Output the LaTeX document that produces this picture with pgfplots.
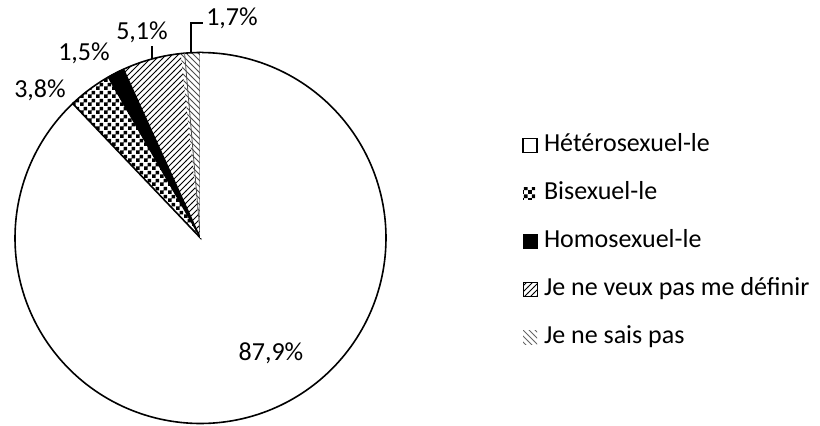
\documentclass[border=0pt]{standalone}
\usepackage{fontspec}
\setmainfont{Carlito}
\usepackage{pgfplots}
\pgfplotsset{compat=1.18}
\usepackage{pgfplotstable}
\usetikzlibrary{patterns}

\pgfdeclarepatternformonly{finechecker}{\pgfqpoint{0pt}{0pt}}{\pgfqpoint{4pt}{4pt}}{\pgfqpoint{4pt}{4pt}}{%
  \pgfpathrectangle{\pgfqpoint{0pt}{0pt}}{\pgfqpoint{2pt}{2pt}}%
  \pgfpathrectangle{\pgfqpoint{2pt}{2pt}}{\pgfqpoint{2pt}{2pt}}%
  \pgfusepath{fill}}

% shares in percent, in Excel order (clockwise from 12 o'clock)
\pgfplotstableread{
pct
87.9
3.8
1.5
5.1
1.7
}\piedata

\pgfplotstablegetelem{0}{pct}\of\piedata \let\pA\pgfplotsretval
\pgfplotstablegetelem{1}{pct}\of\piedata \let\pB\pgfplotsretval
\pgfplotstablegetelem{2}{pct}\of\piedata \let\pC\pgfplotsretval
\pgfplotstablegetelem{3}{pct}\of\piedata \let\pD\pgfplotsretval
\pgfplotstablegetelem{4}{pct}\of\piedata \let\pE\pgfplotsretval
\pgfmathsetmacro\aA{90-3.6*\pA}
\pgfmathsetmacro\aB{\aA-3.6*\pB}
\pgfmathsetmacro\aC{\aB-3.6*\pC}
\pgfmathsetmacro\aD{\aC-3.6*\pD}
\pgfmathsetmacro\aE{\aD-3.6*\pE}

\def\cx{200.5}
\def\cy{187}
\def\rr{185.5}

\begin{document}
\begin{tikzpicture}
\begin{axis}[
  width=410pt, height=212.5pt, scale only axis,
  xmin=0, xmax=820, ymin=0, ymax=425,
  hide axis, clip=false,
  legend image code/.code={\draw[#1] (0pt,-3.5pt) rectangle (7pt,3.5pt);},
  legend style={draw=none, fill=none, inner sep=0pt, at={(axis cs:522,292)}, anchor=north west,
    font=\fontsize{13}{15}\selectfont, row sep=12pt, column sep=3pt,
    nodes={inner sep=0pt, text height=9pt, text depth=3pt}},
  legend cell align=left,
]
\path (axis cs:0,0) rectangle (axis cs:820,425);

\addplot[draw=black, line width=0.8pt, fill=white, domain=\aA:90, samples=200]
  ({\cx+\rr*cos(x)},{\cy+\rr*sin(x)}) -- (\cx,\cy) -- cycle;
\addplot[draw=none, pattern=finechecker, domain=\aB:\aA, samples=30,
  legend image code/.code={\fill[pattern=finechecker] (0pt,-3pt) rectangle (6pt,3pt);}]
  ({\cx+\rr*cos(x)},{\cy+\rr*sin(x)}) -- (\cx,\cy) -- cycle;
\addplot[draw=black, line width=0.5pt, fill=black, domain=\aC:\aB, samples=20]
  ({\cx+\rr*cos(x)},{\cy+\rr*sin(x)}) -- (\cx,\cy) -- cycle;
\addplot[draw=none, pattern=north east lines, domain=\aD:\aC, samples=30,
  legend image code/.code={\draw[pattern=north east lines, draw=black, line width=0.6pt] (0pt,-3.5pt) rectangle (7pt,3.5pt);}]
  ({\cx+\rr*cos(x)},{\cy+\rr*sin(x)}) -- (\cx,\cy) -- cycle;
\addplot[draw=none, pattern=north west lines, pattern color=black!70, domain=\aE:\aD, samples=20,
  legend image code/.code={\fill[pattern=north west lines, pattern color=black!60] (0pt,-3.5pt) rectangle (7pt,3.5pt);}]
  ({\cx+\rr*cos(x)},{\cy+\rr*sin(x)}) -- (\cx,\cy) -- cycle;

% outer rim of the small slices
\addplot[black, line width=0.8pt, domain=\aE:\aA, samples=40, forget plot]
  ({\cx+\rr*cos(x)},{\cy+\rr*sin(x)});
% separators between hatched slices
\addplot[black!70, line width=0.4pt, forget plot] coordinates {(\cx,\cy) (184.6,371.8)};
\addplot[white, line width=1pt, forget plot] coordinates {(\cx,\cy) (200.5,372.5)};

% leader lines
\addplot[black, line width=0.6pt, forget plot] coordinates {(152,366) (152,379)};
\addplot[black, line width=0.6pt, forget plot] coordinates {(191,372.3) (191,402) (203,402)};

\legend{Hétérosexuel-le, Bisexuel-le, Homosexuel-le, Je ne veux pas me définir, Je ne sais pas}

\begin{scope}[font=\fontsize{13}{15}\selectfont]
\node at (axis cs:271,72) {87,9\%};
\node at (axis cs:40,335) {3,8\%};
\node at (axis cs:84,372) {1,5\%};
\node at (axis cs:142,393) {5,1\%};
\node at (axis cs:232,407) {1,7\%};
\end{scope}
\end{axis}
\end{tikzpicture}
\end{document}
